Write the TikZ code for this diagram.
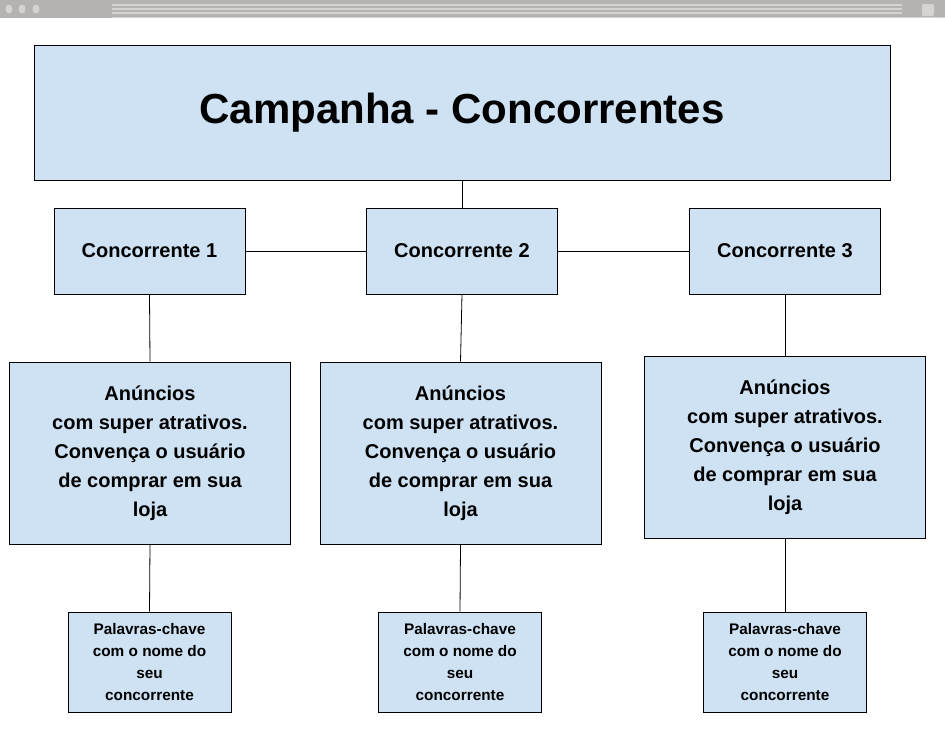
\documentclass[tikz,border=0pt]{standalone}
\usepackage{fontspec}
\setmainfont{Liberation Sans}
\definecolor{boxblue}{RGB}{207,226,243}
\definecolor{barg}{RGB}{180,179,177}
\definecolor{barl}{RGB}{214,212,210}
\begin{document}
\begin{tikzpicture}[x=0.75pt,y=-0.75pt,
  bx/.style={draw=black,fill=boxblue,line width=0.6pt,align=center,font=\bfseries,inner sep=0pt},
  ln/.style={draw=black,line width=0.6pt}]
\useasboundingbox (0,0) rectangle (945,728);
\fill[white] (0,0) rectangle (945,728);
% browser bar
\fill[barg] (0,0) rectangle (945,18);
\foreach \x in {9,22,36}{\fill[barl] (\x,9) ellipse (3.5 and 4.5);}
\foreach \y in {5,9,13}{\fill[barl] (112,\y-0.8) rectangle (902,\y+0.8);}
\fill[barl] (112,17) rectangle (945,18);
\fill[barl,rounded corners=1pt] (922,4) rectangle (934,16);
% nodes
\node[bx,minimum width=856*0.75pt,minimum height=135*0.75pt,font=\bfseries\fontsize{31.5}{36}\selectfont] (t) at (462,112.5) {Campanha - Concorrentes};
\foreach \i/\x in {1/149.5,2/462,3/785}{
  \node[bx,minimum width=191*0.75pt,minimum height=86*0.75pt,font=\bfseries\fontsize{15}{18}\selectfont] (c\i) at (\x,251) {Concorrente \i};
}
\foreach \i/\x/\y in {1/150/453,2/460.5/453,3/785/447}{
  \node[bx,minimum width=281*0.75pt,minimum height=182*0.75pt,font=\bfseries\fontsize{15}{21.75}\selectfont] (a\i) at (\x,\y) {Anúncios\\com super atrativos.\\Convença o usuário\\de comprar em sua\\loja};
}
\foreach \i/\x in {1/149.5,2/460,3/785}{
  \node[bx,minimum width=163*0.75pt,minimum height=100*0.75pt,font=\bfseries\fontsize{11.5}{16.5}\selectfont] (p\i) at (\x,662) {Palavras-chave\\com o nome do\\seu\\concorrente};
}
% connectors
\draw[ln] (t.south) -- (c2.north);
\draw[ln] (c1.east) -- (c2.west);
\draw[ln] (c2.east) -- (c3.west);
\draw[ln] (c1.south) -- (a1.north);
\draw[ln] (c2.south) -- (a2.north);
\draw[ln] (c3.south) -- (a3.north);
\draw[ln] (a1.south) -- (p1.north);
\draw[ln] (a2.south) -- (p2.north);
\draw[ln] (a3.south) -- (p3.north);
\end{tikzpicture}
\end{document}
